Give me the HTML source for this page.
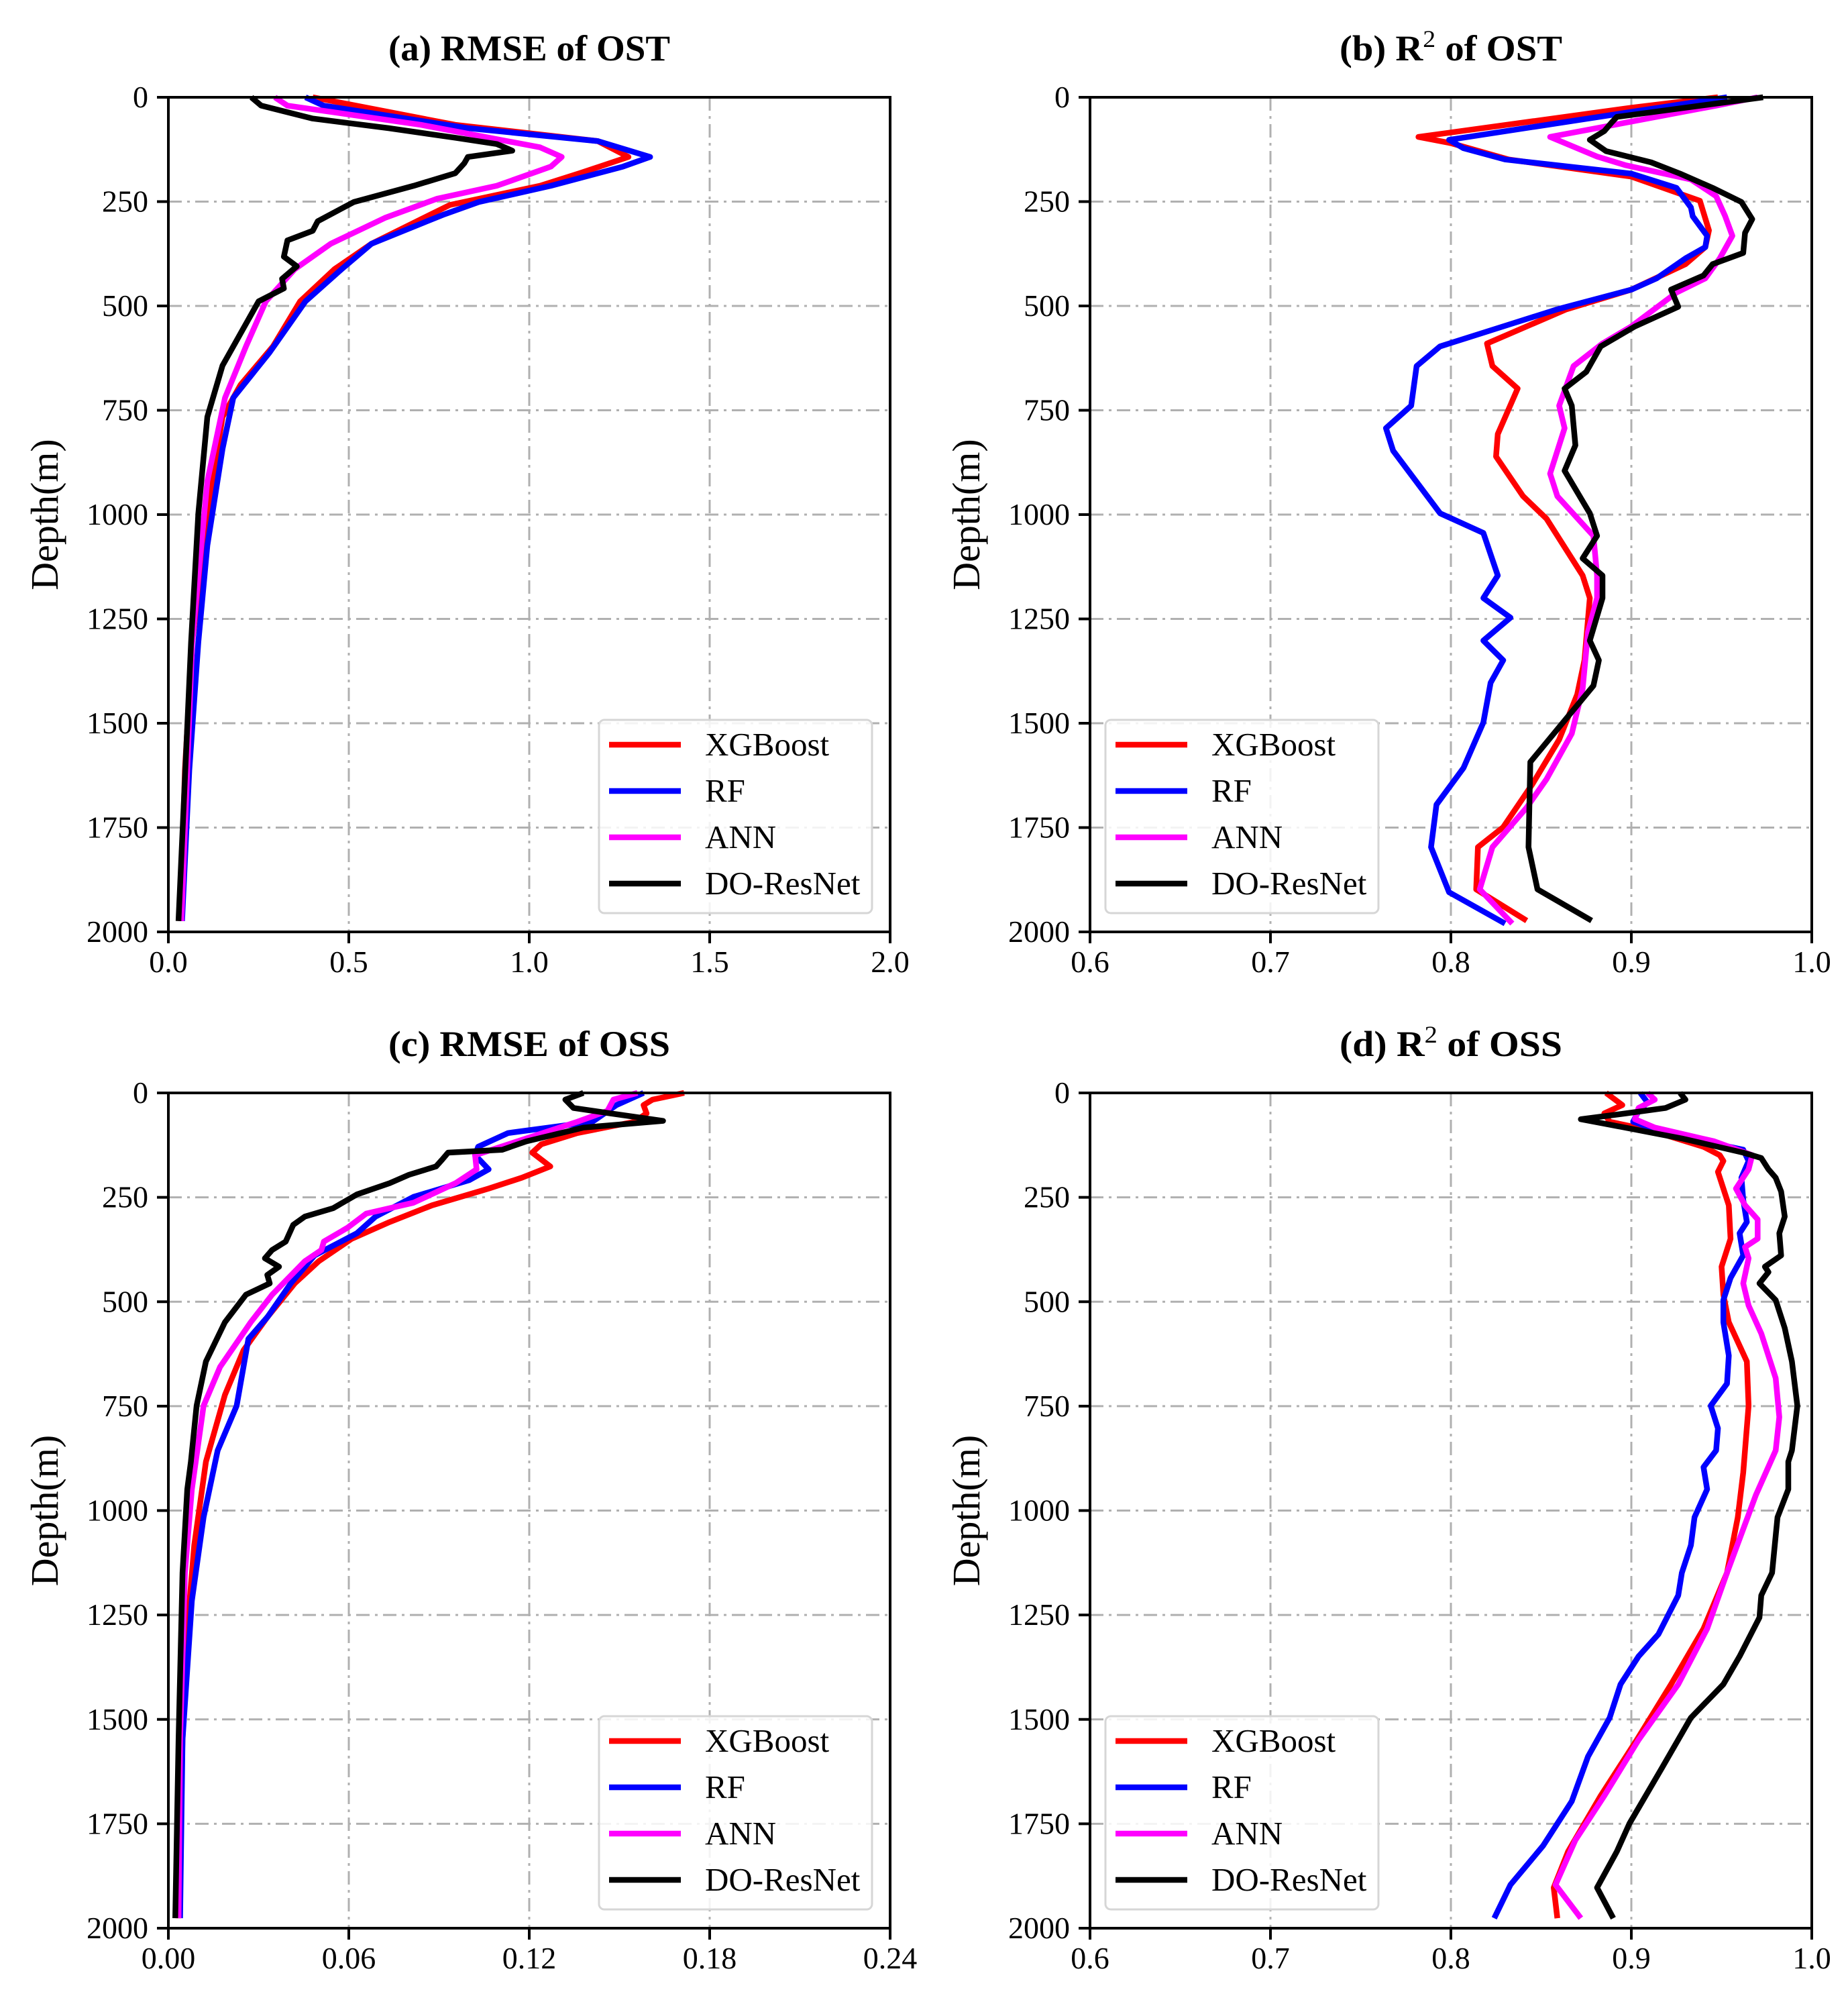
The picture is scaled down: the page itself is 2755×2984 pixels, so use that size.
<!DOCTYPE html>
<html><head><meta charset="utf-8"><style>
html,body{margin:0;padding:0;background:#fff;}
svg{display:block;font-family:"Liberation Serif",serif;}
</style></head><body>
<svg id="fig" width="2755" height="2984" viewBox="0 0 2755 2984" xmlns="http://www.w3.org/2000/svg"></svg>
<script>
// ---- data (depth in m, value) ----
const seriesNames = ["XGBoost","RF","ANN","DO-ResNet"];
const seriesColors = ["#ff0000","#0000ff","#ff00ff","#000000"];
// (a) RMSE of OST
const aXgbD=[0,66,105,143,182,212,258,351,412,489,597,689,766,997,1305,1612,1974];
const aXgbV=[0.40,0.795,1.19,1.275,1.14,1.03,0.78,0.563,0.46,0.365,0.29,0.20,0.15,0.108,0.066,0.046,0.033];
const aRfD=[0,20,74,105,143,166,212,251,282,351,412,489,612,720,843,1074,1305,1612,1974];
const aRfV=[0.38,0.43,0.83,1.19,1.335,1.26,1.06,0.86,0.76,0.563,0.48,0.38,0.28,0.18,0.15,0.108,0.083,0.058,0.038];
const aAnnD=[0,20,66,120,143,166,212,243,289,351,412,489,597,720,920,1305,1974];
const aAnnV=[0.295,0.33,0.70,1.03,1.09,1.06,0.91,0.745,0.6,0.45,0.35,0.27,0.215,0.157,0.108,0.066,0.036];
const aDoD=[0,20,51,74,97,112,128,143,158,182,212,251,297,320,343,382,405,435,458,489,566,643,766,997,1305,1974];
const aDoV=[0.23,0.257,0.40,0.61,0.795,0.91,0.953,0.83,0.82,0.795,0.68,0.514,0.414,0.40,0.33,0.32,0.356,0.315,0.32,0.25,0.20,0.15,0.108,0.083,0.063,0.028];
// (b) R2 of OST
const bXgbD=[0,25,95,110,149,190,248,319,359,400,461,508,590,644,698,807,861,956,1010,1146,1200,1349,1431,1539,1647,1749,1797,1898,1973];
const bXgbV=[0.948,0.90,0.782,0.80,0.832,0.90,0.938,0.943,0.941,0.93,0.90,0.864,0.82,0.823,0.837,0.826,0.825,0.84,0.853,0.873,0.877,0.874,0.87,0.86,0.845,0.829,0.815,0.814,0.842];
const bRfD=[0,102,122,149,183,217,264,285,332,359,386,434,461,508,549,597,644,739,793,847,997,1044,1146,1200,1247,1302,1349,1403,1498,1607,1695,1797,1905,1980];
const bRfV=[0.953,0.799,0.807,0.83,0.90,0.925,0.933,0.934,0.942,0.941,0.93,0.914,0.90,0.859,0.829,0.794,0.781,0.778,0.764,0.768,0.794,0.818,0.826,0.818,0.833,0.818,0.829,0.822,0.818,0.807,0.792,0.789,0.799,0.830];
const bAnnD=[0,20,95,142,163,197,237,285,332,386,434,468,549,590,644,739,793,902,956,1051,1146,1200,1281,1417,1525,1634,1702,1797,1898,1980];
const bAnnV=[0.970,0.947,0.855,0.881,0.897,0.933,0.947,0.952,0.956,0.949,0.941,0.925,0.90,0.884,0.868,0.860,0.863,0.855,0.859,0.879,0.881,0.881,0.876,0.873,0.867,0.853,0.842,0.823,0.816,0.834];
const bDoD=[0,47,61,81,102,129,156,183,217,251,292,325,373,400,427,461,502,549,597,658,698,739,834,895,997,1051,1105,1146,1200,1302,1349,1410,1593,1797,1898,1973];
const bDoV=[0.973,0.892,0.889,0.885,0.877,0.886,0.911,0.927,0.945,0.961,0.967,0.963,0.962,0.945,0.94,0.922,0.926,0.902,0.883,0.875,0.863,0.867,0.869,0.863,0.877,0.881,0.873,0.884,0.884,0.877,0.882,0.879,0.844,0.843,0.848,0.878];
// (c) RMSE of OSS
const cXgbD=[0,16,29,49,69,96,123,143,176,203,229,269,309,349,403,456,536,616,723,883,1083,1283,1549,1976];
const cXgbV=[0.1715,0.161,0.158,0.159,0.155,0.136,0.124,0.121,0.127,0.1175,0.1065,0.0877,0.0736,0.061,0.050,0.042,0.033,0.025,0.0188,0.0125,0.0086,0.0063,0.0047,0.0031];
const cRfD=[0,29,69,96,129,149,183,209,249,296,336,389,456,536,589,749,856,1016,1216,1549,1976];
const cRfV=[0.158,0.149,0.141,0.113,0.103,0.102,0.1065,0.100,0.0815,0.0689,0.0627,0.0486,0.0407,0.033,0.0266,0.0227,0.0164,0.0117,0.0078,0.0047,0.0039];
const cAnnD=[0,16,43,69,109,149,183,216,263,289,323,356,376,403,483,549,656,749,949,1149,1549,1976];
const cAnnV=[0.156,0.148,0.146,0.136,0.119,0.102,0.1025,0.0955,0.0815,0.0658,0.0595,0.0517,0.0509,0.0454,0.0345,0.0274,0.0172,0.0117,0.0078,0.0055,0.0039,0.0034];
const cDoD=[0,16,36,49,67,83,116,136,143,160,176,196,216,243,276,296,316,356,376,396,416,436,456,483,549,643,749,883,949,1149,1549,1976];
const cDoV=[0.138,0.132,0.1347,0.147,0.1645,0.138,0.119,0.111,0.093,0.091,0.089,0.080,0.0736,0.0627,0.0548,0.0454,0.0415,0.039,0.0345,0.0321,0.0368,0.0329,0.0337,0.0258,0.0188,0.0125,0.0094,0.0075,0.0063,0.0047,0.0034,0.0023];
// (d) R2 of OSS
const dXgbD=[0,29,49,69,89,129,149,163,189,229,269,349,416,483,549,643,749,909,1016,1149,1283,1416,1549,1683,1816,1903,1976];
const dXgbV=[0.886,0.895,0.885,0.888,0.91,0.94,0.949,0.951,0.948,0.951,0.954,0.955,0.95,0.951,0.954,0.964,0.965,0.962,0.959,0.953,0.94,0.922,0.903,0.883,0.865,0.857,0.859];
const dRfD=[0,23,43,69,96,136,163,203,256,309,336,389,443,496,549,629,696,749,803,856,896,949,1016,1083,1149,1203,1296,1349,1416,1496,1589,1696,1803,1896,1976];
const dRfV=[0.905,0.909,0.904,0.901,0.919,0.962,0.965,0.961,0.962,0.964,0.96,0.962,0.955,0.951,0.951,0.954,0.953,0.944,0.948,0.947,0.94,0.942,0.935,0.933,0.928,0.926,0.915,0.904,0.894,0.888,0.876,0.867,0.851,0.833,0.824];
const dAnnD=[0,16,36,63,83,116,149,183,229,269,303,349,369,396,456,509,576,683,776,856,963,1149,1283,1416,1549,1683,1789,1896,1976];
const dAnnV=[0.909,0.913,0.904,0.902,0.913,0.946,0.967,0.965,0.958,0.963,0.970,0.970,0.963,0.965,0.962,0.965,0.972,0.980,0.982,0.980,0.969,0.953,0.942,0.926,0.904,0.885,0.869,0.858,0.872];
const dDoD=[0,16,36,49,63,76,109,143,156,183,203,236,296,336,389,416,429,456,496,563,643,749,856,883,949,1016,1149,1203,1256,1349,1416,1496,1616,1749,1816,1903,1976];
const dDoV=[0.927,0.930,0.919,0.897,0.872,0.888,0.928,0.962,0.972,0.976,0.980,0.983,0.985,0.982,0.983,0.974,0.976,0.971,0.980,0.985,0.989,0.992,0.989,0.987,0.987,0.981,0.978,0.972,0.971,0.960,0.951,0.933,0.917,0.899,0.892,0.881,0.89];
const yTicks=[0,250,500,750,1000,1250,1500,1750,2000];
const aTicks=[0.0,0.5,1.0,1.5,2.0], aTickLabels=["0.0","0.5","1.0","1.5","2.0"];
const bTicks=[0.6,0.7,0.8,0.9,1.0], bTickLabels=["0.6","0.7","0.8","0.9","1.0"];
const cTicks=[0,0.06,0.12,0.18,0.24], cTickLabels=["0.00","0.06","0.12","0.18","0.24"];

const NS="http://www.w3.org/2000/svg";
const svg=document.getElementById('fig');
function mk(tag,attrs,parent){const e=document.createElementNS(NS,tag);for(const k in attrs)e.setAttribute(k,attrs[k]);(parent||svg).appendChild(e);return e;}

const panels=[
 {id:'a',L:251,R:1327,T:145,B:1389,xmin:0,xmax:2,ticks:aTicks,labels:aTickLabels,title:'(a) RMSE of OST',r2:false,
  data:[[aXgbD,aXgbV],[aRfD,aRfV],[aAnnD,aAnnV],[aDoD,aDoV]],legLeft:893},
 {id:'b',L:1625,R:2701,T:145,B:1389,xmin:0.6,xmax:1.0,ticks:bTicks,labels:bTickLabels,title:'OST',r2:true,letter:'(b)',
  data:[[bXgbD,bXgbV],[bRfD,bRfV],[bAnnD,bAnnV],[bDoD,bDoV]],legLeft:1648},
 {id:'c',L:251,R:1327,T:1629,B:2874,xmin:0,xmax:0.24,ticks:cTicks,labels:cTickLabels,title:'(c) RMSE of OSS',r2:false,
  data:[[cXgbD,cXgbV],[cRfD,cRfV],[cAnnD,cAnnV],[cDoD,cDoV]],legLeft:893},
 {id:'d',L:1625,R:2701,T:1629,B:2874,xmin:0.6,xmax:1.0,ticks:bTicks,labels:bTickLabels,title:'OSS',r2:true,letter:'(d)',
  data:[[dXgbD,dXgbV],[dRfD,dRfV],[dAnnD,dAnnV],[dDoD,dDoV]],legLeft:1648}
];

panels.forEach(p=>{
  const g=mk('g',{});
  
  
  const xs=v=>p.L+(v-p.xmin)/(p.xmax-p.xmin)*(p.R-p.L);
  const ys=d=>p.T+d/2000*(p.B-p.T);
  p.ticks.forEach((t,i)=>{
    const gl=mk('line',{x1:xs(t),x2:xs(t),y1:p.T,y2:p.B,stroke:'#b0b0b0','stroke-width':3,'stroke-dasharray':'20 8 4 8'},g);
    
    
    const tk=mk('line',{x1:xs(t),x2:xs(t),y1:p.B,y2:p.B+17,stroke:'#000','stroke-width':4},g);
    
    
    const tl=mk('text',{x:xs(t),y:p.B+60,'font-size':46,'text-anchor':'middle',fill:'#000'},g);
    tl.textContent=p.labels[i];
    
    
  });
  yTicks.forEach(t=>{
    const gl=mk('line',{x1:p.L,x2:p.R,y1:ys(t),y2:ys(t),stroke:'#b0b0b0','stroke-width':3,'stroke-dasharray':'20 8 4 8'},g);
    
    
    const tk=mk('line',{x1:p.L-17,x2:p.L,y1:ys(t),y2:ys(t),stroke:'#000','stroke-width':4},g);
    
    
    const tl=mk('text',{x:p.L-30,y:ys(t)+15,'font-size':46,'text-anchor':'end',fill:'#000'},g);
    tl.textContent=String(t);
    
    
  });
  p.data.forEach((s,si)=>{
    const pts=s[0].map((d,i)=>xs(s[1][i]).toFixed(1)+','+ys(d).toFixed(1)).join(' ');
    const pl=mk('polyline',{points:pts,fill:'none',stroke:seriesColors[si],'stroke-width':8.5,'stroke-linejoin':'round'},g);
    
    
  });
  const fr=mk('rect',{x:p.L,y:p.T,width:p.R-p.L,height:p.B-p.T,fill:'none',stroke:'#000','stroke-width':4},g);
  
  
  const cx=(p.L+p.R)/2;
  const tt=mk('text',{x:cx,y:p.T-55,'font-size':54,'font-weight':'bold','text-anchor':'middle',fill:'#000'},g);
  
  
  if(p.r2){
    tt.setAttribute('textLength',332);
    tt.setAttribute('lengthAdjust','spacingAndGlyphs');
    const a=mk('tspan',{},tt);a.textContent=p.letter+' R';
    const s=mk('tspan',{dy:-20,'font-size':36,'font-weight':'normal'},tt);s.textContent='2';
    const b=mk('tspan',{dy:20},tt);b.textContent=' of '+p.title;
  } else {
    tt.setAttribute('textLength',420);
    tt.setAttribute('lengthAdjust','spacingAndGlyphs');
    tt.textContent=p.title;
  }
  const yl=mk('text',{x:0,y:0,'font-size':58,'text-anchor':'middle',fill:'#000',transform:`translate(${p.L-165},${(p.T+p.B)/2}) rotate(-90)`},g);
  yl.textContent='Depth(m)';
  
  
  const lg=mk('g',{},g);
  
  
  const lt=p.B-316;
  mk('rect',{x:p.legLeft,y:lt,width:407,height:288,rx:8,fill:'#fff','fill-opacity':0.85,stroke:'#d6d6d6','stroke-width':3},lg);
  seriesNames.forEach((n,i)=>{
    const yy=lt+37+i*69;
    const e=mk('g',{},lg);
    
    
    mk('line',{x1:p.legLeft+15,x2:p.legLeft+122,y1:yy,y2:yy,stroke:seriesColors[i],'stroke-width':8.5},e);
    const t=mk('text',{x:p.legLeft+158,y:yy+16,'font-size':49,fill:'#000'},e);
    t.textContent=n;
  });
});
</script>
</body></html>
